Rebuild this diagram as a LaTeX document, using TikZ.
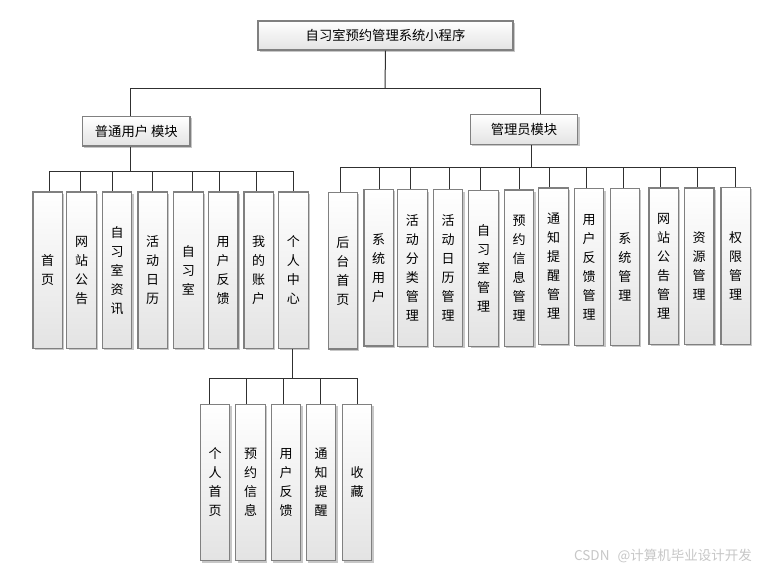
\documentclass[tikz,border=0pt]{standalone}
\usepackage{fontspec}
\setmainfont{Noto Sans CJK SC}
\usetikzlibrary{shadows}
\definecolor{boxline}{HTML}{808080}
\definecolor{conn}{HTML}{303030}
\tikzset{
  boxbase/.style={draw=boxline, line width=1.1pt, top color=white, bottom color=black!11,
    inner sep=0pt, align=center, text=black,
    drop shadow={shadow xshift=1.8pt, shadow yshift=-1.8pt, fill=black, opacity=0.22}},
  hbox/.style={boxbase, font=\fontsize{13.3}{16}\selectfont},
  vbox/.style={boxbase, minimum width=29.5pt, minimum height=156.5pt,
    font=\fontsize{13}{19}\selectfont},
  conline/.style={draw=conn, line width=1pt},
  mark text/.style={text=black!22, font=\fontsize{13.5}{15}\selectfont, inner sep=0pt}
}
\begin{document}
\begin{tikzpicture}[x=1pt,y=-1pt]
\useasboundingbox (0,0) rectangle (761,570);
\fill[white] (0,0) rectangle (761,570);

% top level
\node[hbox, minimum width=255pt, minimum height=29pt] (root) at (385.5,35.5) {自习室预约管理系统小程序};
\node[hbox, minimum width=107.3pt, minimum height=29.3pt] (user) at (136.3,131.3) {普通用户 模块};
\node[hbox, minimum width=107.4pt, minimum height=29.6pt] (admin) at (524,129.5) {管理员模块};

% user children
\node[vbox] (u1) at (47.7,270.2) {首\\页};
\node[vbox] (u2) at (81.5,270.2) {网\\站\\公\\告};
\node[vbox] (u3) at (117,270.2) {自\\习\\室\\资\\讯};
\node[vbox] (u4) at (152.7,270.2) {活\\动\\日\\历};
\node[vbox] (u5) at (188.3,270.2) {自\\习\\室};
\node[vbox] (u6) at (223.2,270.2) {用\\户\\反\\馈};
\node[vbox] (u7) at (258.7,270.2) {我\\的\\账\\户};
\node[vbox] (u8) at (293.3,270.2) {个\\人\\中\\心};

% personal centre children
\node[vbox] (p1) at (215,482.5) {个\\人\\首\\页};
\node[vbox] (p2) at (250.5,482.5) {预\\约\\信\\息};
\node[vbox] (p3) at (286,482.5) {用\\户\\反\\馈};
\node[vbox] (p4) at (321,482.5) {通\\知\\提\\醒};
\node[vbox] (p5) at (357,482.5) {收\\藏};

% admin children
\node[vbox] (a1) at (342.8,270.7) {后\\台\\首\\页};
\node[vbox] (a2) at (378.7,267.7) {系\\统\\用\\户};
\node[vbox] (a3) at (412.3,268) {活\\动\\分\\类\\管\\理};
\node[vbox] (a4) at (448,268) {活\\动\\日\\历\\管\\理};
\node[vbox] (a5) at (483.5,268.3) {自\\习\\室\\管\\理};
\node[vbox] (a6) at (519,268.2) {预\\约\\信\\息\\管\\理};
\node[vbox] (a7) at (553.5,266.2) {通\\知\\提\\醒\\管\\理};
\node[vbox] (a8) at (589,267) {用\\户\\反\\馈\\管\\理};
\node[vbox] (a9) at (624.8,266.8) {系\\统\\管\\理};
\node[vbox] (a10) at (663.7,266.2) {网\\站\\公\\告\\管\\理};
\node[vbox] (a11) at (699.2,266.2) {资\\源\\管\\理};
\node[vbox] (a12) at (735.7,265.8) {权\\限\\管\\理};

% connectors: root level
\coordinate (rj) at (385,88);
\draw[conline] (root.south) -- (rj);
\draw[conline] (130.7,88) -- (540.7,88);
\draw[conline] (130.7,88) -- (130.7,0 |- user.north);
\draw[conline] (540.7,88) -- (540.7,0 |- admin.north);

% user module
\coordinate (uj) at (130.7,171.3);
\draw[conline] (130.7,0 |- user.south) -- (uj);
\draw[conline] (49,171.3) -- (293.3,171.3);
\foreach \xx/\n in {49/u1,80.7/u2,112.7/u3,152.3/u4,192/u5,219.3/u6,256.7/u7,293.3/u8}
  \draw[conline] (\xx,171.3) -- (\xx,0 |- \n.north);

% personal centre
\coordinate (pj) at (292.7,378.3);
\draw[conline] (292.7,0 |- u8.south) -- (pj);
\draw[conline] (209.3,378.3) -- (357,378.3);
\foreach \xx/\n in {209.3/p1,246.3/p2,283.3/p3,320/p4,357/p5}
  \draw[conline] (\xx,378.3) -- (\xx,0 |- \n.north);

% admin module
\coordinate (aj) at (531.3,167);
\draw[conline] (531.3,0 |- admin.south) -- (aj);
\draw[conline] (340.7,167) -- (735.7,167);
\foreach \xx/\n in {340.7/a1,379.3/a2,410.7/a3,449/a4,480.7/a5,519/a6,549.7/a7,586.7/a8,623.3/a9,660.3/a10,697.7/a11,735.7/a12}
  \draw[conline] (\xx,167) -- (\xx,0 |- \n.north);

% watermark
\node[mark text, anchor=east] (wm) at (752,556) {CSDN\hspace{8pt}@计算机毕业设计开发};
\end{tikzpicture}
\end{document}
